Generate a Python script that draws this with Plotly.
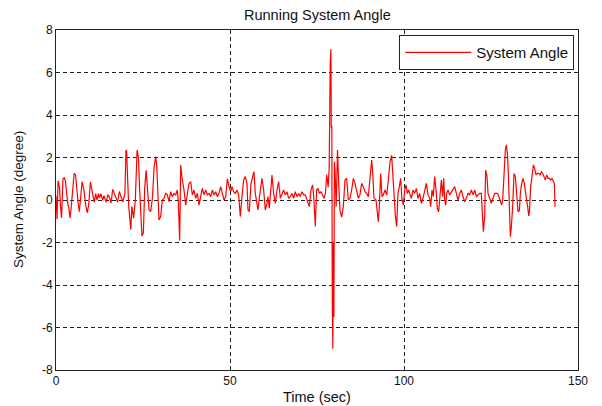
import plotly.graph_objects as go

# Time (sec) samples
time_s = [
    0.0, 0.3, 0.6, 1.0, 1.3, 1.6, 2.0, 2.4, 2.7, 3.0, 3.4, 3.7, 4.0, 4.4, 4.8, 5.2, 5.6, 6.0, 6.4, 6.7,
    7.1, 7.5, 8.0, 8.3, 8.6, 9.0, 9.4, 9.9, 10.2, 10.5, 11.0, 11.4, 11.8, 12.2, 12.5, 12.9, 13.4, 13.8, 14.4, 14.9,
    15.3, 15.8, 16.3, 16.8, 17.2, 17.7, 18.2, 18.7, 19.2, 19.8, 20.1, 20.3, 20.6, 20.9, 21.5, 21.8, 22.3, 22.8, 23.3, 23.7,
    24.0, 24.4, 24.7, 25.1, 25.5, 25.9, 26.3,
    26.73, 27.2, 27.7, 28.2, 28.64, 28.93, 29.31, 29.6, 30.08, 30.56, 31.04, 31.52, 32.0, 32.47, 32.95, 33.43, 33.91, 34.39,
    34.87, 35.16, 35.54, 35.83, 36.3, 36.78, 37.26, 37.74, 38.22, 38.7, 39.18, 39.66, 40.14, 40.62, 41.1, 41.57, 42.05, 42.53,
    43.01, 43.49, 43.97, 44.45, 44.93, 45.4, 45.88, 46.36, 46.84, 47.32, 47.8, 48.28, 48.76, 49.24, 49.72, 50.2,
    50.57, 51.05, 51.53, 52.01, 52.49, 52.96, 53.44, 53.92, 54.4, 54.88, 55.17, 55.55, 56.03, 56.51, 56.89, 57.27, 57.75, 58.04,
    58.42, 58.81, 59.19, 59.67, 60.15, 60.63, 60.91, 61.3, 61.78, 62.06, 62.54, 63.02, 63.5, 63.98, 64.46, 64.94, 65.42, 65.9,
    66.37, 66.85, 67.33, 67.81, 68.29, 68.77, 69.25, 69.73, 70.2, 70.68, 71.16, 71.64, 72.12, 72.79, 73.27, 73.75, 74.13, 74.52,
    74.9, 75.28, 75.67, 76.15,
    76.6, 77.0, 77.4, 77.8, 78.2, 78.5, 78.8, 79.0, 79.1, 79.25, 79.4, 79.55, 79.7, 79.85, 80.0, 80.2, 80.5, 80.9, 81.2, 81.6,
    82.09, 82.57, 83.04, 83.52, 84.0, 84.48, 84.96, 85.44, 85.92, 86.4, 86.88, 87.35, 87.83, 88.31, 88.79, 89.27, 89.75, 90.23,
    90.71, 90.99, 91.38, 91.95, 92.33, 92.62, 92.91, 93.29, 93.68, 94.06, 94.54, 95.02, 95.5, 95.97, 96.45, 96.74, 97.12, 97.51,
    97.89, 98.27, 98.66, 99.04, 99.42, 99.81, 100.19, 100.57, 100.96,
    101.34, 101.63, 102.11, 102.59, 103.07, 103.54, 104.02, 104.5, 104.98, 105.46, 105.94, 106.42, 106.9, 107.38, 107.66,
    108.05, 108.43, 108.81, 109.2, 109.58, 109.96, 110.35, 110.73, 111.11, 111.4, 111.69, 111.97, 112.26, 112.64, 113.12,
    113.6, 114.08, 114.56, 115.04, 115.52, 116.0, 116.48, 116.96, 117.43, 117.91, 118.39, 118.87, 119.35, 119.83, 120.31,
    120.79, 121.26, 121.74, 122.22, 122.41, 122.8, 123.18, 123.47, 123.85, 124.14, 124.62, 125.1, 125.57, 126.05,
    126.44, 126.92, 127.4, 127.69, 128.07, 128.36, 128.74, 129.12, 129.41, 129.7, 129.98, 130.27, 130.56, 130.85, 131.23,
    131.61, 132.0, 132.38, 132.76, 133.15, 133.43, 133.82, 134.2, 134.58, 134.87, 135.16, 135.54, 135.83, 136.02, 136.4,
    136.78, 137.17, 137.55, 137.93, 138.32, 138.7, 139.08, 139.47, 139.85, 140.23, 140.62, 141.0, 141.38, 141.77, 142.15,
    142.53, 142.92, 143.2, 143.4,
]

# System angle (degree) values
angle_deg = [
    0.2, -0.9, 0.9, 0.6, -0.3, -0.85, 1.0, 1.05, 0.9, 0.3, -0.2, -0.4, -0.85, -0.3, 0.6, 1.25, 1.2, 0.4, -0.2, -0.55,
    0.2, 0.86, 0.5, 0.0, -0.3, -0.6, -0.2, 0.86, 0.5, 0.3, -0.1, 0.3, 0.0, 0.3, 0.1, 0.3, 0.0, 0.2, -0.1, 0.25,
    0.15, -0.15, 0.5, 0.3, 0.1, -0.1, 0.4, 0.1, -0.1, 0.3, 2.35, 2.3, 0.9, -0.3, -1.4, -0.3, -0.86, 0.0, 2.35, 2.0,
    0.6, -0.8, -1.7, -1.55, 0.6, 1.4, 0.47,
    -0.47, -0.55, 0.08, 1.57, 2.04, 1.65, -0.31, -0.94, -0.78, 0.0, 0.08, 0.31, 0.24, -0.08, 0.39, 0.16, 0.31, 0.24,
    0.47, -0.16, -1.9, 1.65, 0.94, 0.47, -0.24, 0.31, 0.78, 0.86, 0.24, 0.47, 0.08, 0.31, -0.24, 0.16, 0.55, 0.24,
    0.47, 0.24, 0.31, 0.16, 0.47, 0.24, 0.39, 0.16, 0.31, 0.63, 0.24, 0.0, 0.16, 1.0, 0.63, 0.39,
    0.63, 0.39, 0.31, 0.47, 0.24, -0.78, 0.16, 0.94, 1.1, 0.78, -0.47, -0.55, 0.78, 1.18, 1.33, 0.31, -0.31, -0.47,
    0.08, 0.63, 1.02, 0.47, -0.47, -0.16, 0.16, -0.39, 0.78, 1.18, 0.31, -0.16, 0.47, 0.86, 0.08, 0.31, 0.47, 0.24,
    0.39, 0.08, 0.16, 0.31, 0.08, 0.39, 0.16, 0.31, 0.16, 0.39, 0.24, 0.24, 0.0, -0.31, 0.47, 0.71, 0.0, -1.25,
    0.47, 0.55, 0.31, 0.39,
    0.24, 0.08, 0.3, 1.2, 0.6, 1.5, 6.4, 7.1, 3.4, 3.5, -4.8, -7.0, -2.0, -5.5, 1.8, 1.3, -0.3, 2.35, 0.9, -0.5,
    -0.8, -0.31, 0.94, 1.02, 0.0, 0.08, 0.47, 1.02, 0.78, 0.47, 0.08, 0.24, 0.78, 0.63, 0.39, 0.31, 0.16, 1.02,
    1.88, 1.33, 0.08, 0.0, -0.47, -1.02, -0.31, 1.25, 0.16, 0.24, 0.47, 0.24, 0.94, 1.8, 2.1, 1.41, 0.0, -0.71,
    -1.25, 0.31, 0.63, 1.02, 0.0, -0.24, 0.47, 0.71, 0.31,
    0.47, 0.31, 0.08, 0.47, 0.31, 0.55, 0.08, 0.31, -0.16, 0.08, 0.47, 0.78, 0.24, 0.08, -0.31,
    0.47, 0.16, 1.1, 0.47, -0.39, -0.55, 0.31, 0.94, 0.16, 1.02, 0.0, -0.24, 0.31, 0.47, 0.24,
    0.39, 0.55, 0.63, 0.31, 0.0, 0.31, 0.47, 0.16, -0.08, 0.08, 0.31, 0.24, 0.47, 0.24, 0.47,
    0.16, 0.24, 0.31, 0.31, -0.24, -1.49, -0.78, 1.41, 1.1, 0.31, 0.08, -0.16, 0.08, 0.31,
    0.31, 0.31, 0.08, -0.08, -0.24, 0.0, 1.25, 2.35, 2.6, 2.2, 1.25, -0.63, -1.73, -1.25, -0.31,
    1.25, 1.1, 0.31, -0.55, -0.5, 0.31, 0.78, 1.02, 0.78, 0.24, 0.08, -0.31, -0.75, -0.6, 0.63,
    1.1, 1.65, 1.49, 1.18, 1.25, 1.25, 1.18, 1.33, 1.25, 1.1, 0.94, 1.18, 1.02, 1.02, 0.94,
    1.02, 0.86, 0.78, -0.31,
]

x_ticks = [0, 50, 100, 150]
x_tick_labels = ["0", "50", "100", "150"]
y_ticks = [-8, -6, -4, -2, 0, 2, 4, 6, 8]
y_tick_labels = ["-8", "-6", "-4", "-2", "0", "2", "4", "6", "8"]

FONT = "Liberation Sans, Arial, sans-serif"
INK = "#111111"

fig = go.Figure()
fig.add_trace(go.Scatter(
    x=time_s, y=angle_deg, mode="lines", name="System Angle",
    line=dict(color="#ff0000", width=1.2),
))

axis_common = dict(
    showgrid=True, gridcolor="#222222", gridwidth=1, griddash="4px,3px",
    showline=True, linecolor="#222222", linewidth=1, mirror=True,
    zeroline=False, ticks="", tickfont=dict(family=FONT, size=12, color=INK),
)

# The page body adds an 8px offset, so the figure is sized/margined to compensate
fig.update_layout(
    width=594, height=398,
    margin=dict(l=48, r=24, t=22, b=36, autoexpand=False),
    paper_bgcolor="white", plot_bgcolor="white",
    font=dict(family=FONT, color=INK),
    showlegend=True,
    legend=dict(
        x=0.993, y=0.985, xanchor="right", yanchor="top",
        bordercolor="#222222", borderwidth=1, bgcolor="white",
        font=dict(family=FONT, size=15, color=INK),
        itemwidth=66, tracegroupgap=0,
    ),
    xaxis=dict(range=[0, 150], tickvals=x_ticks, ticktext=x_tick_labels, **axis_common),
    yaxis=dict(range=[-8, 8], tickvals=y_ticks, ticktext=y_tick_labels, **axis_common),
    annotations=[
        dict(text="Running System Angle", xref="paper", yref="paper", x=0.5, y=1.0,
             yshift=15, showarrow=False, font=dict(family=FONT, size=14.5, color=INK),
             xanchor="center", yanchor="middle"),
        dict(text="Time (sec)", xref="paper", yref="paper", x=0.5, y=0.0,
             yshift=-27, showarrow=False, font=dict(family=FONT, size=14.5, color=INK),
             xanchor="center", yanchor="middle"),
        dict(text="System Angle (degree)", xref="paper", yref="paper", x=0.0, y=0.5,
             xshift=-38, textangle=-90, showarrow=False,
             font=dict(family=FONT, size=13.5, color=INK),
             xanchor="center", yanchor="middle"),
    ],
)

fig.write_html("out.html")
